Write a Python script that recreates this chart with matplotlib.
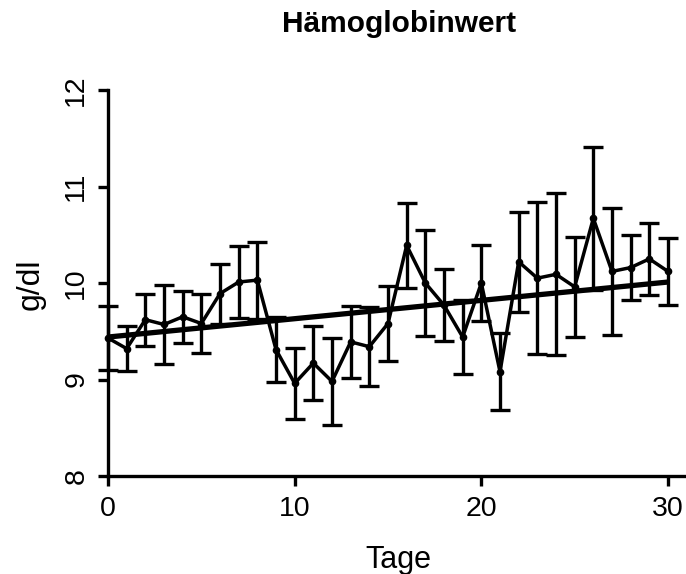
import matplotlib
matplotlib.use("Agg")
import matplotlib.pyplot as plt
import numpy as np

plt.rcParams['font.family'] = ['Liberation Sans', 'DejaVu Sans']

days = list(range(31))
means = [9.43, 9.32, 9.62, 9.57, 9.65, 9.58, 9.89, 10.01, 10.03, 9.31,
         8.96, 9.17, 8.98, 9.39, 9.34, 9.58, 10.39, 10.00, 9.77, 9.44,
         10.00, 9.08, 10.22, 10.05, 10.09, 9.96, 10.67, 10.12, 10.16, 10.25,
         10.12]
errs = [0.33, 0.23, 0.27, 0.41, 0.27, 0.31, 0.31, 0.37, 0.40, 0.34,
        0.37, 0.385, 0.45, 0.37, 0.41, 0.39, 0.44, 0.55, 0.37, 0.38,
        0.39, 0.40, 0.52, 0.79, 0.84, 0.52, 0.74, 0.66, 0.34, 0.37,
        0.35]
trend_x = [0, 30]
trend_y = [9.44, 10.01]

title = "Hämoglobinwert"
xlabel = "Tage"
ylabel = "g/dl"
xticks = [0, 10, 20, 30]
yticks = [8, 9, 10, 11, 12]

W, H = 686, 574
fig = plt.figure(figsize=(W / 100, H / 100), dpi=100)
ax = fig.add_axes([108 / W, 1 - 476 / H, 1 - 108 / W, (476 - 90) / H])

ax.plot(trend_x, trend_y, color='black', lw=3.8, solid_capstyle='butt', zorder=2)
eb = ax.errorbar(days, means, yerr=errs, color='black', lw=2.5, elinewidth=2.4,
                 capsize=7.5, capthick=2.4, marker='o', markersize=4.5,
                 zorder=3)
artists = [eb.lines[0]] + list(eb.lines[1]) + list(eb.lines[2])
for artist in artists:
    if artist is not None:
        artist.set_clip_on(False)

ax.set_xlim(0, 578 / (560 / 30))
ax.set_ylim(8, 12)
ax.set_xticks(xticks)
ax.set_yticks(yticks)
ax.spines['top'].set_visible(False)
ax.spines['right'].set_visible(False)
for s in ['left', 'bottom']:
    ax.spines[s].set_linewidth(2.4)
ax.tick_params(axis='both', direction='out', length=7.5, width=2.4,
               labelsize=20.5, pad=6)
ax.tick_params(axis='x', pad=7)
for lab in ax.get_yticklabels():
    lab.set_rotation(90)
    lab.set_va('center')

ax.set_xlabel(xlabel, fontsize=22)
ax.xaxis.set_label_coords(398 / W, 1 - 568 / H, transform=fig.transFigure)
ax.xaxis.label.set_va('baseline')
ax.set_ylabel(ylabel, fontsize=23)
ax.yaxis.set_label_coords(31 / W, 1 - 284 / H, transform=fig.transFigure)
ax.yaxis.label.set_va('center')
ax.yaxis.label.set_ha('center')

fig.text(399 / W, 1 - 32 / H, title, fontsize=21.5, fontweight='bold',
         ha='center', va='baseline')

fig.savefig("out.png", dpi=100)
